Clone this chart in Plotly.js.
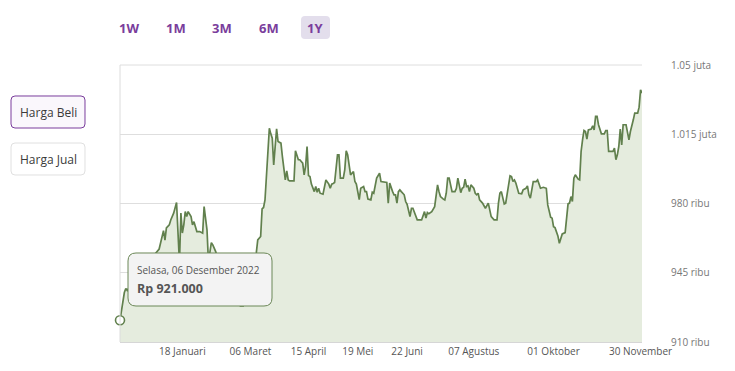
<!DOCTYPE html>
<html>
<head>
<meta charset="utf-8">
<script src="https://cdn.plot.ly/plotly-3.0.1.min.js"></script>
<style>
  html, body { margin: 0; padding: 0; background: #ffffff; }
  #chart { width: 735px; height: 371px; }
</style>
</head>
<body>
<div id="chart"></div>
<script>
// ---- data ----
const dates = [
"2022-12-06","2022-12-08","2022-12-09","2022-12-10","2022-12-11","2022-12-13","2022-12-15","2022-12-17","2022-12-19","2022-12-21",
"2022-12-23","2022-12-25","2022-12-27","2022-12-29","2022-12-31","2023-01-02","2023-01-05","2023-01-06","2023-01-07","2023-01-09",
"2023-01-10","2023-01-11","2023-01-12","2023-01-14","2023-01-16","2023-01-17","2023-01-18","2023-01-19","2023-01-20","2023-01-21",
"2023-01-22","2023-01-24","2023-01-25","2023-01-26","2023-01-27","2023-01-28","2023-01-30","2023-02-01","2023-02-02","2023-02-03",
"2023-02-04","2023-02-05","2023-02-07","2023-02-08","2023-02-10","2023-02-12","2023-02-14","2023-02-16","2023-02-18","2023-02-20",
"2023-02-22","2023-02-24","2023-02-26","2023-02-27","2023-03-01","2023-03-02","2023-03-04","2023-03-06","2023-03-08","2023-03-10",
"2023-03-11","2023-03-13","2023-03-14","2023-03-15","2023-03-16","2023-03-17","2023-03-18","2023-03-19","2023-03-20","2023-03-21",
"2023-03-22","2023-03-23","2023-03-24","2023-03-25","2023-03-27","2023-03-28","2023-03-29","2023-03-30","2023-03-31","2023-04-01",
"2023-04-02","2023-04-05","2023-04-06","2023-04-07","2023-04-08","2023-04-09","2023-04-11","2023-04-12","2023-04-13","2023-04-14",
"2023-04-15","2023-04-16","2023-04-17","2023-04-19","2023-04-20","2023-04-21","2023-04-22","2023-04-23","2023-04-25","2023-04-27",
"2023-04-28","2023-04-29","2023-04-30","2023-05-01","2023-05-02","2023-05-03","2023-05-05","2023-05-06","2023-05-07","2023-05-09",
"2023-05-10","2023-05-11","2023-05-12","2023-05-13","2023-05-14","2023-05-16","2023-05-17","2023-05-18","2023-05-20","2023-05-21",
"2023-05-23","2023-05-24","2023-05-25","2023-05-26","2023-05-28","2023-05-29","2023-05-30","2023-06-01","2023-06-03","2023-06-04",
"2023-06-06","2023-06-08","2023-06-09","2023-06-10","2023-06-12","2023-06-13","2023-06-14","2023-06-15","2023-06-16","2023-06-17",
"2023-06-18","2023-06-20","2023-06-21","2023-06-22","2023-06-24","2023-06-25","2023-06-26","2023-06-28","2023-06-29","2023-07-02",
"2023-07-04","2023-07-05","2023-07-06","2023-07-07","2023-07-08","2023-07-09","2023-07-11","2023-07-12","2023-07-13","2023-07-14",
"2023-07-15","2023-07-17","2023-07-18","2023-07-19","2023-07-20","2023-07-21","2023-07-22","2023-07-23","2023-07-25","2023-07-26",
"2023-07-27","2023-07-29","2023-07-30","2023-07-31","2023-08-01","2023-08-02","2023-08-03","2023-08-04","2023-08-05","2023-08-07",
"2023-08-08","2023-08-09","2023-08-10","2023-08-11","2023-08-13","2023-08-14","2023-08-15","2023-08-17","2023-08-18","2023-08-19",
"2023-08-21","2023-08-23","2023-08-24","2023-08-25","2023-08-26","2023-08-28","2023-08-29","2023-09-01","2023-09-02","2023-09-03",
"2023-09-04","2023-09-05","2023-09-07","2023-09-09","2023-09-10","2023-09-12","2023-09-13","2023-09-14","2023-09-15","2023-09-17",
"2023-09-19","2023-09-20","2023-09-21","2023-09-22","2023-09-24","2023-09-26","2023-09-27","2023-09-28","2023-09-29","2023-09-30",
"2023-10-01","2023-10-02","2023-10-04","2023-10-05","2023-10-06","2023-10-07","2023-10-09","2023-10-10","2023-10-11","2023-10-12",
"2023-10-13","2023-10-14","2023-10-15","2023-10-16","2023-10-18","2023-10-19","2023-10-20","2023-10-21","2023-10-22","2023-10-23",
"2023-10-24","2023-10-25","2023-10-27","2023-10-28","2023-10-29","2023-10-30","2023-10-31","2023-11-01","2023-11-03","2023-11-05",
"2023-11-06","2023-11-07","2023-11-08","2023-11-11","2023-11-12","2023-11-13","2023-11-14","2023-11-15","2023-11-16","2023-11-17",
"2023-11-18","2023-11-20","2023-11-21","2023-11-22","2023-11-23","2023-11-24","2023-11-25","2023-11-26","2023-11-28","2023-11-29",
"2023-11-30","2023-12-01"
];
const prices = [
921000,931000,935000,937000,936000,938300,941400,939800,943900,946400,
948400,950500,952500,953500,955500,957000,966300,961500,967700,969200,
971700,973700,975100,980500,950000,975200,965100,969200,975900,973400,
975900,973400,969200,970800,967500,965800,965800,965000,978400,971700,
966700,950500,960200,959100,955700,950500,947400,943900,945400,941400,
937300,933300,929700,928200,928200,929700,933300,938800,946400,955000,
961600,963300,977300,978000,981800,994500,1009600,1018000,1015200,1013000,
999500,1011300,1017700,1011300,1010500,1003700,996100,991900,996500,991900,
991400,991400,1006600,1004600,1002100,1002100,1000400,994500,998700,1008800,
994100,993600,989800,986000,988600,985700,987700,985200,984700,991900,
991100,989800,987700,989800,990100,990600,1004600,1004600,992800,992800,
997000,1006600,1004600,997900,994500,996100,991100,989800,982000,987700,
988600,986000,986000,982200,981800,985700,985200,992800,995300,991100,
990700,990600,980200,990300,986000,984400,984400,980200,986000,986900,
986000,984400,981000,979600,973400,977600,977600,974200,971700,971700,
975900,972600,975400,974800,975400,975900,978400,984400,989400,986000,
983500,982200,981800,985200,992800,992800,988600,986000,986000,987700,
992800,985500,987700,988200,992300,988600,988900,986000,989400,987700,
985200,984400,985200,981800,980200,978400,977600,980200,977100,973400,
971700,971700,980200,985200,986000,979800,980200,994000,993600,991100,
991900,990300,985200,984900,986900,987700,988900,984400,982700,991100,
991100,991900,989900,987700,988200,987700,979300,975900,973100,972600,
968300,967800,963600,959900,961900,964600,965300,971700,979800,980200,
983500,981000,992800,994500,992300,991900,1006300,1012200,1016900,1016400,
1012500,1017200,1017600,1019300,1017200,1024000,1024000,1019800,1015200,1015200,
1016900,1016900,1006300,1006300,1008000,1002100,1004600,1008800,1017600,1009600,
1019800,1019800,1016400,1012200,1016400,1018900,1022300,1025700,1025700,1028700,
1037500,1035800
];
const xTickVals = ["2023-01-18","2023-03-06","2023-04-15","2023-05-19","2023-06-22","2023-08-07","2023-10-01","2023-11-30"];
const xTickText = ["18 Januari","06 Maret","15 April","19 Mei","22 Juni","07 Agustus","01 Oktober","30 November"];
const yTickVals = [910000, 945000, 980000, 1015000, 1050000];
const yTickText = ["910 ribu","945 ribu","980 ribu","1.015 juta","1.05 juta"];
const rangeButtons = ["1W","1M","3M","6M","1Y"];
const sideButtons = ["Harga Beli","Harga Jual"];
const tooltipDate = "Selasa, 06 Desember 2022";

// ---- layout helpers (pixel -> paper) ----
const W = 735, H = 371;
const M = {l: 120, r: 93, t: 65, b: 29};
const PW = W - M.l - M.r, PH = H - M.t - M.b;
const X = p => (p - M.l) / PW;
const Y = p => (M.t + PH - p) / PH;
function rr(x0, y0, x1, y1, r) {
  const f = (a, b) => X(a).toFixed(5) + "," + Y(b).toFixed(5);
  return "M" + f(x0 + r, y0) + " L" + f(x1 - r, y0) + " Q" + f(x1, y0) + " " + f(x1, y0 + r) +
         " L" + f(x1, y1 - r) + " Q" + f(x1, y1) + " " + f(x1 - r, y1) +
         " L" + f(x0 + r, y1) + " Q" + f(x0, y1) + " " + f(x0, y1 - r) +
         " L" + f(x0, y0 + r) + " Q" + f(x0, y0) + " " + f(x0 + r, y0) + " Z";
}
function fmtRp(v) {
  return "Rp " + String(v).replace(/\B(?=(\d{3})+(?!\d))/g, ".");
}

const lineColor = "#61804d";
const purple = "#7a3d9c";

const traces = [
  {
    type: "scatter", mode: "lines", x: dates, y: prices,
    line: {color: lineColor, width: 1.7},
    fill: "tozeroy", fillcolor: "#e5ecde",
    hoverinfo: "skip"
  },
  {
    type: "scatter", mode: "markers", x: [dates[0]], y: [prices[0]],
    marker: {size: 9, color: "#ffffff", line: {color: lineColor, width: 1.6}},
    cliponaxis: false, hoverinfo: "skip"
  }
];

const btnX = [129, 176, 222, 269, 315];
const annotations = [];
rangeButtons.forEach((t, i) => {
  annotations.push({
    text: t, xref: "paper", yref: "paper", x: X(btnX[i]), y: Y(27.5),
    xanchor: "center", yanchor: "middle", showarrow: false,
    font: {family: "Open Sans, sans-serif", size: 13, color: purple, weight: 700}
  });
});
const sideY = [112, 159];
sideButtons.forEach((t, i) => {
  annotations.push({
    text: t, xref: "paper", yref: "paper", x: X(48), y: Y(sideY[i]),
    xanchor: "center", yanchor: "middle", showarrow: false,
    font: {family: "Open Sans, sans-serif", size: 12, color: "#3a3a3a"}
  });
});
annotations.push({
  text: tooltipDate, xref: "paper", yref: "paper", x: X(135), y: Y(270),
  xanchor: "left", yanchor: "middle", showarrow: false,
  font: {family: "Open Sans, sans-serif", size: 10, color: "#555555"}
});
annotations.push({
  text: fmtRp(prices[0]), xref: "paper", yref: "paper", x: X(135), y: Y(288.5),
  xanchor: "left", yanchor: "middle", showarrow: false,
  font: {family: "Open Sans, sans-serif", size: 12.5, color: "#555555", weight: 700}
});

const shapes = [
  {type: "line", xref: "paper", yref: "paper", x0: 0, x1: 0, y0: 0, y1: 1,
   line: {color: "#dcdcdc", width: 1}, layer: "above"},
  {type: "line", xref: "paper", yref: "paper", x0: 0, x1: 1, y0: 1, y1: 1,
   line: {color: "#dedede", width: 1}, layer: "above"},
  {type: "path", xref: "paper", yref: "paper", path: rr(301, 16, 330, 39, 4),
   fillcolor: "#e3deec", line: {width: 0}, layer: "below"},
  {type: "path", xref: "paper", yref: "paper", path: rr(11, 96, 85, 128, 4),
   fillcolor: "#faf7fc", line: {color: purple, width: 1}},
  {type: "path", xref: "paper", yref: "paper", path: rr(11, 143, 85, 175, 4),
   fillcolor: "#ffffff", line: {color: "#e0e0e0", width: 1}},
  {type: "path", xref: "paper", yref: "paper", path: rr(128, 253, 272, 306, 8),
   fillcolor: "#f3f3f3", line: {color: "#6b8757", width: 1}, layer: "above"}
];

const layout = {
  width: W, height: H, margin: M,
  paper_bgcolor: "#ffffff", plot_bgcolor: "#ffffff",
  showlegend: false, hovermode: false,
  font: {family: "Open Sans, sans-serif"},
  xaxis: {
    type: "date", range: ["2022-12-06", "2023-12-01"],
    tickmode: "array", tickvals: xTickVals, ticktext: xTickText,
    showgrid: false, zeroline: false, showline: true, linecolor: "#d6d6d6", linewidth: 1,
    ticks: "", tickfont: {size: 10, color: "#555555"}, fixedrange: true
  },
  yaxis: {
    side: "right", range: [910000, 1050000],
    tickmode: "array", tickvals: yTickVals, ticktext: yTickText,
    showgrid: true, gridcolor: "#dedede", gridwidth: 1, zeroline: false, showline: false,
    ticks: "", ticklabelstandoff: 28, tickfont: {size: 10, color: "#777777"}, fixedrange: true
  },
  shapes: shapes,
  annotations: annotations
};

Plotly.newPlot("chart", traces, layout, {staticPlot: true, displayModeBar: false});
</script>
</body>
</html>
